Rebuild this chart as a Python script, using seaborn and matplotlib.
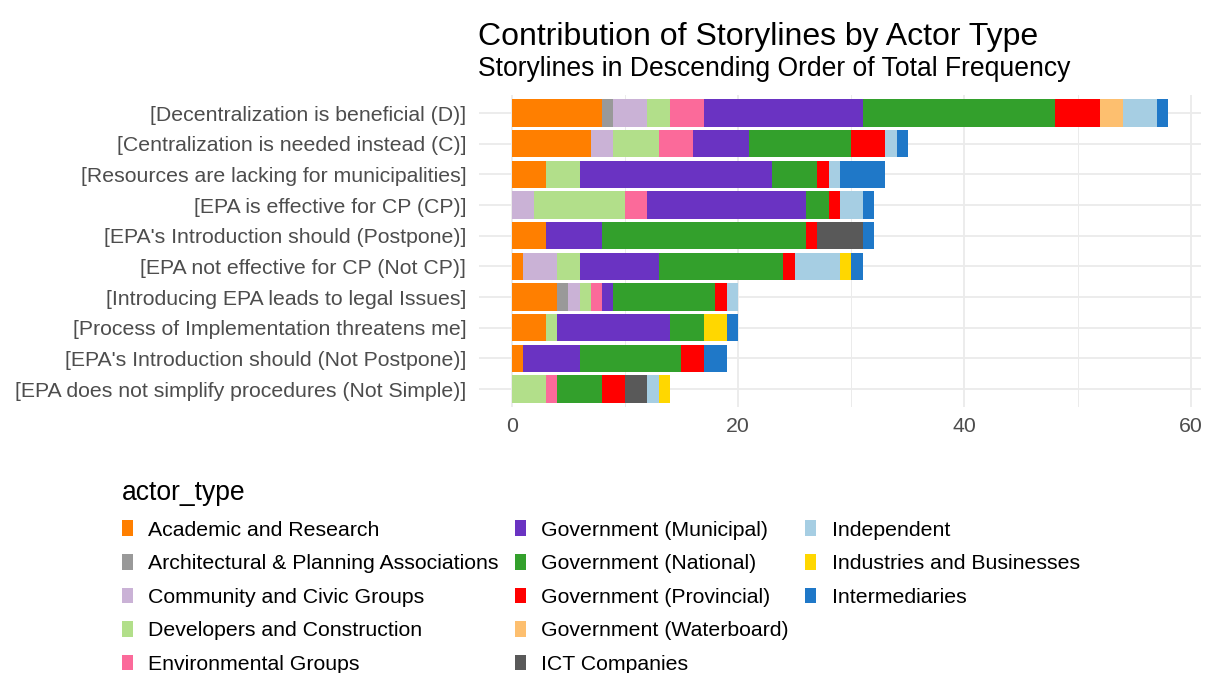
import numpy as np
import pandas as pd
import matplotlib
matplotlib.use('Agg')
import matplotlib.pyplot as plt
import seaborn as sns
from matplotlib.patches import Patch
from matplotlib.ticker import MultipleLocator

# storylines, in descending order of total frequency
storylines = [
    '[Decentralization is beneficial (D)]',
    '[Centralization is needed instead (C)]',
    '[Resources are lacking for municipalities]',
    '[EPA is effective for CP (CP)]',
    "[EPA's Introduction should (Postpone)]",
    '[EPA not effective for CP (Not CP)]',
    '[Introducing EPA leads to legal Issues]',
    '[Process of Implementation threatens me]',
    "[EPA's Introduction should (Not Postpone)]",
    '[EPA does not simplify procedures (Not Simple)]',
]

actor_types = [
    'Academic and Research',
    'Architectural & Planning Associations',
    'Community and Civic Groups',
    'Developers and Construction',
    'Environmental Groups',
    'Government (Municipal)',
    'Government (National)',
    'Government (Provincial)',
    'Government (Waterboard)',
    'ICT Companies',
    'Independent',
    'Industries and Businesses',
    'Intermediaries',
]

colors = ['#FF7F00', '#999999', '#CAB2D6', '#B2DF8A', '#FB6A9A', '#6A33C2',
          '#33A02C', '#FF0000', '#FDBF6F', '#595959', '#A6CEE3', '#FFD700',
          '#1F78C8']

# counts per storyline (rows) and actor type (columns, same order as actor_types)
academic      = [8, 7, 3, 0, 3, 1, 4, 3, 1, 0]
architectural = [1, 0, 0, 0, 0, 0, 1, 0, 0, 0]
community     = [3, 2, 0, 2, 0, 3, 1, 0, 0, 0]
developers    = [2, 4, 3, 8, 0, 2, 1, 1, 0, 3]
environmental = [3, 3, 0, 2, 0, 0, 1, 0, 0, 1]
municipal     = [14, 5, 17, 14, 5, 7, 1, 10, 5, 0]
national      = [17, 9, 4, 2, 18, 11, 9, 3, 9, 4]
provincial    = [4, 3, 1, 1, 1, 1, 1, 0, 2, 2]
waterboard    = [2, 0, 0, 0, 0, 0, 0, 0, 0, 0]
ict           = [0, 0, 0, 0, 4, 0, 0, 0, 0, 2]
independent   = [3, 1, 1, 2, 0, 4, 1, 0, 0, 1]
industries    = [0, 0, 0, 0, 0, 1, 0, 2, 0, 1]
intermediary  = [1, 1, 4, 1, 1, 1, 0, 1, 2, 0]

counts = np.array([academic, architectural, community, developers, environmental,
                   municipal, national, provincial, waterboard, ict,
                   independent, industries, intermediary])

cum = np.cumsum(counts, axis=0)

FONT = ['Liberation Sans', 'DejaVu Sans']

fig = plt.figure(figsize=(12.12, 6.73), dpi=100)
ax = fig.add_axes([0.395, 0.3946, 0.596, 0.4648])

# draw cumulative bars from the longest down so each segment shows its own colour
for i in range(len(actor_types) - 1, -1, -1):
    df = pd.DataFrame({'storyline': storylines, 'value': cum[i]})
    sns.barplot(data=df, x='value', y='storyline', order=storylines,
                color=colors[i], width=0.9, linewidth=0, saturation=1,
                errorbar=None, ax=ax, zorder=3)

ax.set_xlim(-2.9, 60.9)
ax.set_ylim(len(storylines) - 0.4, -0.6)
ax.xaxis.set_major_locator(MultipleLocator(20))
ax.xaxis.set_minor_locator(MultipleLocator(10))
ax.set_xlabel('')
ax.set_ylabel('')
for s in ax.spines.values():
    s.set_visible(False)
ax.set_facecolor('white')
ax.grid(True, which='major', axis='both', color='#EBEBEB', linewidth=1.3, zorder=0)
ax.grid(True, which='minor', axis='x', color='#EBEBEB', linewidth=0.7, zorder=0)
ax.set_axisbelow(True)
ax.tick_params(axis='both', which='both', length=0, labelcolor='#4D4D4D',
               labelsize=15.3)
ax.tick_params(axis='y', pad=9)
ax.tick_params(axis='x', pad=7)
for lab in ax.get_yticklabels() + ax.get_xticklabels():
    lab.set_fontfamily(FONT)

fig.text(478 / 1212, 1 - 37 / 673, 'Contribution of Storylines by Actor Type',
         fontsize=23, va='center', ha='left', family=FONT)
fig.text(478 / 1212, 1 - 69 / 673, 'Storylines in Descending Order of Total Frequency',
         fontsize=19.1, va='center', ha='left', family=FONT)

handles = [Patch(facecolor=c, edgecolor='none') for c in colors]
labels = list(actor_types)
handles.append(Patch(facecolor='none', edgecolor='none'))
labels.append('')
leg = fig.legend(handles, labels, ncol=3, loc='upper left',
                 bbox_to_anchor=(107 / 1212, 1 - 465 / 673), frameon=False,
                 title='actor_type', alignment='left',
                 prop={'family': FONT, 'size': 15.3},
                 title_fontproperties={'family': FONT, 'size': 19.1},
                 handlelength=0.52, handleheight=0.75, handletextpad=0.73,
                 labelspacing=0.68, columnspacing=0.75, borderpad=0.2)

fig.savefig('out.png', dpi=100, facecolor='white')
